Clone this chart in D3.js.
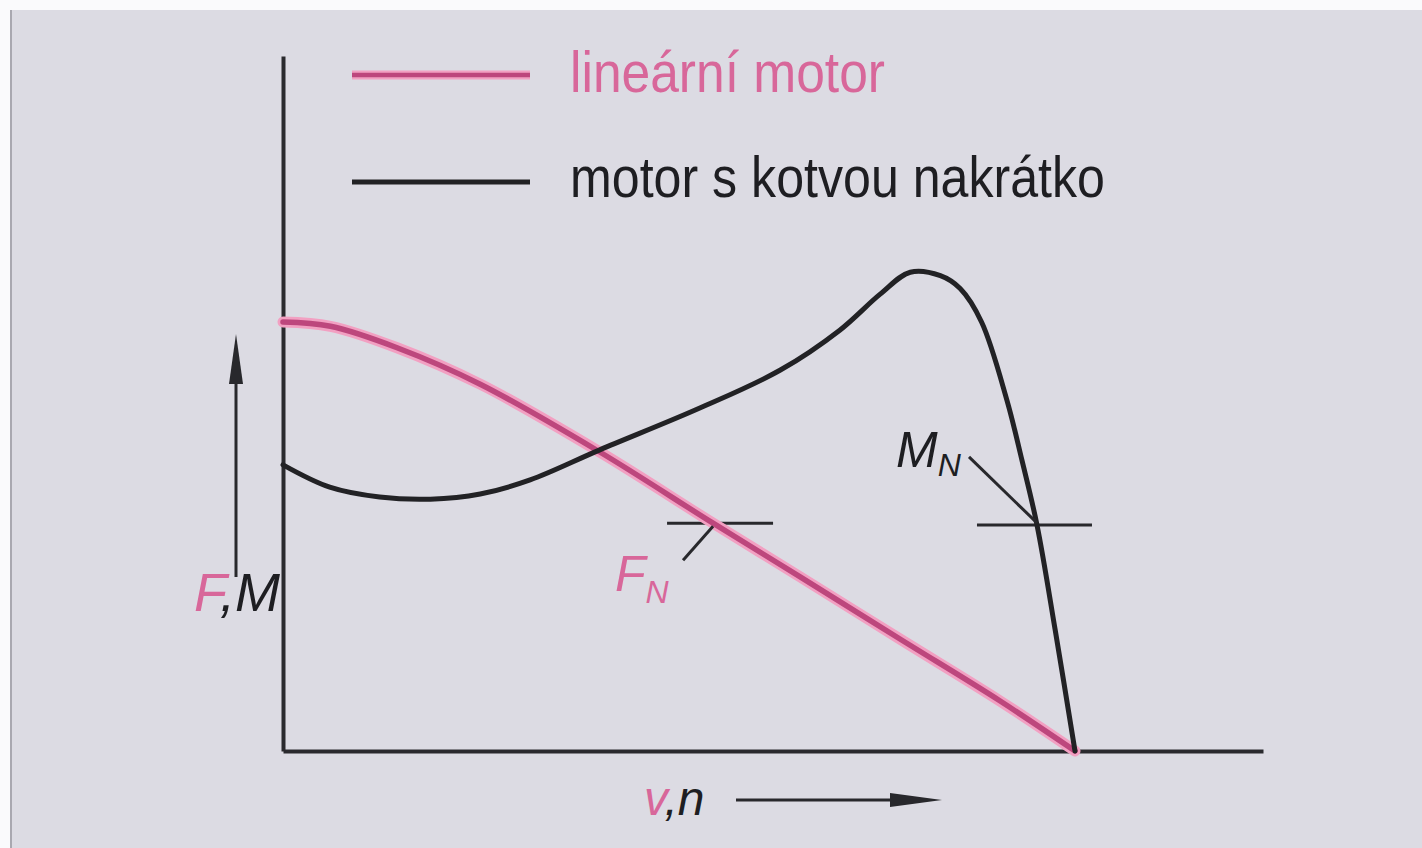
<!DOCTYPE html>
<html>
<head>
<meta charset="utf-8">
<script src="https://cdn.jsdelivr.net/npm/d3@7"></script>
<style>
html,body{margin:0;padding:0;background:#fafafc;}
svg{display:block;}
</style>
</head>
<body>
<svg id="chart" width="1422" height="848"></svg>
<script>
// ---- data (x: speed in % of no-load speed, y: force/torque, % of linear-motor starting force)
const linearX = [0, 6.0, 14.4, 24.9, 40.0, 54.3, 65.3, 77.9, 90.5, 100];
const linearY = [100, 99.0, 94.0, 85.5, 69.7, 53.1, 40.6, 26.1, 11.7, 0];
const cageX = [0, 5.9, 12.2, 18.6, 24.9, 31.2, 40.0, 52.7, 62.8, 70.3, 75.4, 79.2, 83.0, 85.5, 88.2, 91.4, 93.3, 95.2, 97.5, 100];
const cageY = [66.7, 61.5, 59.2, 58.7, 59.9, 63.2, 70.2, 80.0, 88.8, 98.1, 106.5, 111.6, 110.8, 107.8, 100.0, 81.8, 67.8, 52.7, 28.2, 0];
const seriesNames = ["lineární motor", "motor s kotvou nakrátko"];
const ratedF = {x: 54.3, y: 53.1};   // F_N point on linear motor curve
const ratedM = {x: 95.2, y: 52.7};   // M_N point on squirrel-cage curve

const svg = d3.select("#chart");
svg.append("rect").attr("x", 10).attr("y", 10).attr("width", 1412).attr("height", 838).attr("fill", "#dcdbe3");
svg.append("rect").attr("x", 10).attr("y", 10).attr("width", 2).attr("height", 838).attr("fill", "#a9a8b0");

const x = d3.scaleLinear().domain([0, 100]).range([283, 1075]);
const y = d3.scaleLinear().domain([0, 100]).range([751, 322]);
const xMax = x.invert(1263), yMax = y.invert(56);

// axes (no ticks)
const xAxis = d3.axisBottom(x.copy().domain([0, xMax]).range([283, 1263])).tickValues([]).tickSizeOuter(0);
const yAxis = d3.axisLeft(y.copy().domain([0, yMax]).range([751, 56])).tickValues([]).tickSizeOuter(0);
svg.append("g").attr("transform", `translate(0,${y(0)})`).call(xAxis);
svg.append("g").attr("transform", `translate(${x(0)},0)`).call(yAxis);
svg.selectAll(".domain").attr("stroke", "#2a2a2e").attr("stroke-width", 4);

const line = d3.line().x(d => x(d[0])).y(d => y(d[1])).curve(d3.curveCatmullRom.alpha(0.5));
const linData = linearX.map((v, i) => [v, linearY[i]]);
const cageData = cageX.map((v, i) => [v, cageY[i]]);

const ink = "#28282c";
// annotation crossbars
svg.append("line").attr("x1", x(ratedF.x) - 46).attr("x2", x(ratedF.x) + 60)
  .attr("y1", y(ratedF.y)).attr("y2", y(ratedF.y)).attr("stroke", ink).attr("stroke-width", 3);
svg.append("line").attr("x1", x(ratedM.x) - 60).attr("x2", x(ratedM.x) + 55)
  .attr("y1", y(ratedM.y)).attr("y2", y(ratedM.y)).attr("stroke", ink).attr("stroke-width", 3);

// curves
svg.append("path").attr("d", line(linData)).attr("fill", "none").attr("stroke", "#f2a0c2").attr("stroke-width", 11).attr("stroke-linecap", "round");
svg.append("path").attr("d", line(linData)).attr("fill", "none").attr("stroke", "#bd477d").attr("stroke-width", 5.5).attr("stroke-linecap", "round");
svg.append("path").attr("d", line(cageData)).attr("fill", "none").attr("stroke", "#222225").attr("stroke-width", 5).attr("stroke-linecap", "round");

// leaders
svg.append("line").attr("x1", x(ratedF.x)).attr("y1", y(ratedF.y) + 3).attr("x2", x(ratedF.x) - 30).attr("y2", y(ratedF.y) + 37)
  .attr("stroke", ink).attr("stroke-width", 3);
svg.append("line").attr("x1", x(ratedM.x)).attr("y1", y(ratedM.y) - 2).attr("x2", x(ratedM.x) - 68).attr("y2", y(ratedM.y) - 68)
  .attr("stroke", ink).attr("stroke-width", 3);

const narrow = "'Liberation Sans Narrow','Liberation Sans',Arial,sans-serif";
const pinkText = "#d8679a";

// F_N label
const fn = svg.append("text").attr("x", 615).attr("y", 591).attr("font-family", narrow).attr("font-style", "italic").attr("fill", pinkText);
fn.append("tspan").attr("font-size", 50).text("F");
fn.append("tspan").attr("font-size", 32).attr("dy", 12).text("N");

// M_N label
const mn = svg.append("text").attr("x", 896).attr("y", 467).attr("font-family", narrow).attr("font-style", "italic").attr("fill", "#1e1e22");
mn.append("tspan").attr("font-size", 50).text("M");
mn.append("tspan").attr("font-size", 32).attr("dy", 9).text("N");

// axis labels
const fm = svg.append("text").attr("x", 194).attr("y", 611).attr("font-family", narrow).attr("font-style", "italic").attr("font-size", 54);
fm.append("tspan").attr("fill", pinkText).text("F");
fm.append("tspan").attr("fill", "#1e1e22").text(",M");

const vn = svg.append("text").attr("x", 644).attr("y", 815).attr("font-family", narrow).attr("font-style", "italic").attr("font-size", 48);
vn.append("tspan").attr("fill", pinkText).text("v");
vn.append("tspan").attr("fill", "#1e1e22").text(",n");

// axis direction arrows
svg.append("line").attr("x1", 236).attr("x2", 236).attr("y1", 577).attr("y2", 370).attr("stroke", ink).attr("stroke-width", 3);
svg.append("path").attr("d", "M236,334 L229,384 L243,384 Z").attr("fill", ink);
svg.append("line").attr("x1", 736).attr("x2", 900).attr("y1", 800).attr("y2", 800).attr("stroke", ink).attr("stroke-width", 3);
svg.append("path").attr("d", "M942,800 L890,793 L890,807 Z").attr("fill", ink);

// legend
const legY = [75, 182];
svg.append("line").attr("x1", 352).attr("x2", 530).attr("y1", legY[0]).attr("y2", legY[0]).attr("stroke", "#f2a0c2").attr("stroke-width", 9);
svg.append("line").attr("x1", 352).attr("x2", 530).attr("y1", legY[0]).attr("y2", legY[0]).attr("stroke", "#bd477d").attr("stroke-width", 4.5);
svg.append("line").attr("x1", 352).attr("x2", 530).attr("y1", legY[1]).attr("y2", legY[1]).attr("stroke", "#222225").attr("stroke-width", 5);
svg.append("text").attr("x", 570).attr("y", 92).attr("font-family", narrow).attr("font-size", 58).attr("fill", pinkText)
  .attr("textLength", 315).attr("lengthAdjust", "spacingAndGlyphs").text(seriesNames[0]);
svg.append("text").attr("x", 570).attr("y", 197).attr("font-family", narrow).attr("font-size", 58).attr("fill", "#1e1e22")
  .attr("textLength", 535).attr("lengthAdjust", "spacingAndGlyphs").text(seriesNames[1]);
</script>
</body>
</html>
